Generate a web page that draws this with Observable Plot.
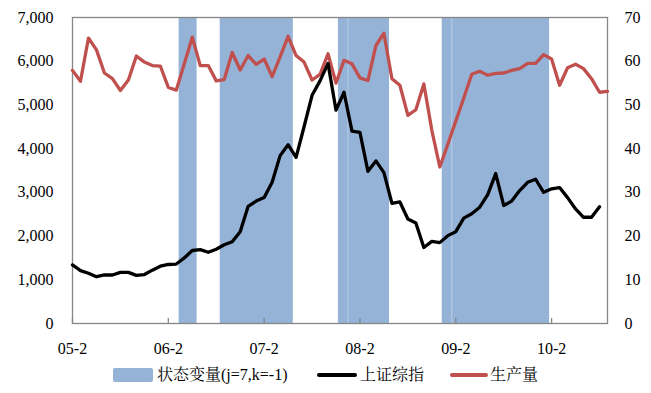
<!DOCTYPE html>
<html><head><meta charset="utf-8">
<script src="https://cdn.jsdelivr.net/npm/d3@7"></script>
<script src="https://cdn.jsdelivr.net/npm/@observablehq/plot@0.6"></script>
<style>
body{margin:0;background:#fff;}
#wrap{position:relative;width:651px;height:393px;background:#fff;font-family:"Liberation Serif","Noto Serif CJK SC","Noto Sans CJK SC",serif;color:#000;}
#chart{position:absolute;left:0;top:0;}
#chart svg, #chart svg text{font-family:"Liberation Serif",serif !important;}
.lg{position:absolute;}
.lgt{position:absolute;top:365px;font-size:16px;line-height:20px;white-space:nowrap;}
</style></head><body>
<div id="wrap">
  <div id="chart"></div>
  <div class="lg" style="left:113px;top:368px;width:40px;height:14px;background:#95B3D7;border-radius:2px;"></div>
  <div class="lgt" style="left:157px;">状态变量(j=7,k=-1)</div>
  <div class="lg" style="left:317px;top:373px;width:40px;height:4px;background:#000;border-radius:2px;"></div>
  <div class="lgt" style="left:360px;">上证综指</div>
  <div class="lg" style="left:450px;top:373px;width:38px;height:4px;background:#C0504D;border-radius:2px;"></div>
  <div class="lgt" style="left:490px;">生产量</div>
</div>
<script>
// x categories: month index from 2005-02
const tickMonths = [0, 12, 24, 36, 48, 60];
const tickLabels = ["05-2", "06-2", "07-2", "08-2", "09-2", "10-2"];
const leftTicks = [0, 1000, 2000, 3000, 4000, 5000, 6000, 7000];
const rightTicks = [0, 10, 20, 30, 40, 50, 60, 70];

// 上证综指 (left axis), monthly from 05-2
const shIndex = [1340, 1210, 1150, 1070, 1110, 1110, 1170, 1170, 1100, 1120,
  1220, 1310, 1350, 1360, 1500, 1670, 1690, 1630, 1700, 1800,
  1870, 2100, 2680, 2800, 2880, 3230, 3840, 4090, 3800, 4500,
  5220, 5550, 5950, 4880, 5290, 4400, 4370, 3480, 3720, 3450,
  2750, 2780, 2390, 2300, 1740, 1880, 1850, 2010, 2100, 2410,
  2510, 2660, 2950, 3430, 2700, 2800, 3040, 3230, 3300, 3000,
  3080, 3110, 2880, 2620, 2430, 2430, 2670];

// 生产量 (right axis), monthly from 05-2
const output = [57.9, 55.4, 65.3, 62.6, 57.3, 56.0, 53.3, 55.7, 61.2, 59.8,
  59.0, 58.9, 54.0, 53.4, 59.4, 65.5, 59.0, 59.0, 55.5, 55.8,
  62.0, 58.0, 61.3, 59.3, 60.5, 56.5, 61.0, 65.7, 61.3, 59.8,
  55.7, 57.0, 61.7, 55.0, 60.2, 59.4, 56.2, 55.6, 63.6, 66.4,
  56.0, 54.5, 47.6, 48.9, 54.8, 44.2, 35.8, 41.0, 46.3, 51.6,
  57.0, 57.7, 56.8, 57.2, 57.3, 57.9, 58.3, 59.5, 59.5, 61.5,
  60.5, 54.5, 58.5, 59.3, 58.3, 56.0, 52.9, 53.1];

// 状态变量 (j=7,k=-1) periods, in month index units
const stateStart = [13.35, 18.5, 33.3, 46.3];
const stateEnd = [15.6, 27.65, 39.7, 59.75];
const stateSplits = [34.5, 47.5];

const RATIO = 100;
const periods = stateStart.map((s, i) => ({s, e: stateEnd[i]}));

const chart = Plot.plot({
  width: 651, height: 360,
  marginTop: 17, marginBottom: 37, marginLeft: 72, marginRight: 44,
  style: {fontFamily: "'Liberation Serif', serif", fontSize: "16px", color: "#000", background: "#fff"},
  x: {domain: [0, 67]},
  y: {domain: [0, 7000]},
  marks: [
    Plot.rect(periods, {x1: "s", x2: "e", y1: 0, y2: 7000, fill: "#95B3D7"}),
    Plot.ruleX(stateSplits, {stroke: "#fff", strokeOpacity: 0.35, strokeWidth: 1}),
    Plot.frame({stroke: "#868686", strokeWidth: 1.3}),
    Plot.ruleX(tickMonths, {y1: 0, y2: 0, insetTop: -5, stroke: "#868686", strokeWidth: 1.3}),
    Plot.axisX({ticks: tickMonths, tickFormat: d => tickLabels[tickMonths.indexOf(d)], tickSize: 0, tickPadding: 19, label: null, fontFamily: "Liberation Serif"}),
    Plot.axisY({ticks: leftTicks, tickFormat: d3.format(","), tickSize: 0, tickPadding: 19, label: null, fontFamily: "Liberation Serif"}),
    Plot.axisY({anchor: "right", ticks: rightTicks.map(v => v * RATIO), tickFormat: d => String(d / RATIO), tickSize: 0, tickPadding: 17, label: null, fontFamily: "Liberation Serif"}),
    Plot.line(output, {x: (d, i) => i, y: d => d * RATIO, stroke: "#C0504D", strokeWidth: 3.3, strokeLinejoin: "round"}),
    Plot.line(shIndex, {x: (d, i) => i, y: d => d, stroke: "#000", strokeWidth: 3.3, strokeLinejoin: "round"})
  ]
});
document.getElementById("chart").appendChild(chart);
</script>
</body></html>
